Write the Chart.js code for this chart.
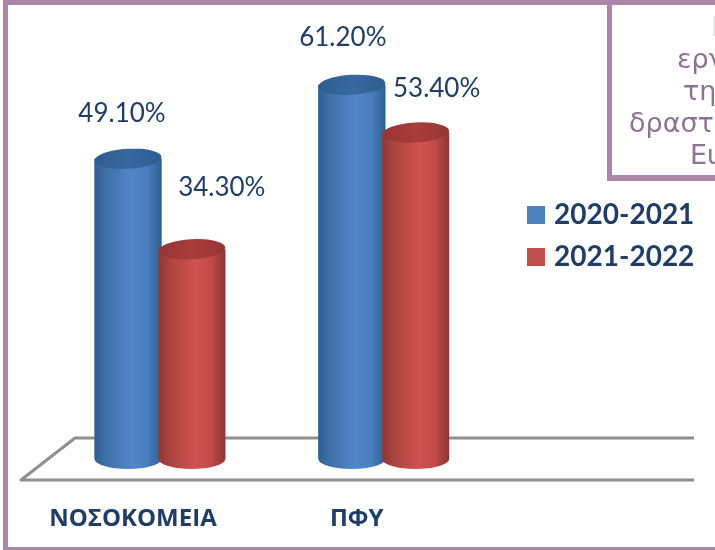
<!DOCTYPE html>
<html>
<head>
<meta charset="utf-8">
<style>html,body{margin:0;padding:0;background:#fff}canvas{display:block}</style>
<script src="https://cdn.jsdelivr.net/npm/chart.js@4"></script>
</head>
<body>
<canvas id="c" width="715" height="550"></canvas>
<script>
const categories = ['ΝΟΣΟΚΟΜΕΙΑ', 'ΠΦΥ'];
const seriesNames = ['2020-2021', '2021-2022'];
const values2020 = [49.1, 61.2];
const values2021 = [34.3, 53.4];
const insetLines = ['Ι', 'εργ', 'τηα', 'δραστι', 'Ευ'];

const NAVY = '#1f3d66';
const PURPLE = '#ab86a8';
const looks = [
  {flat:'#4f81bd', stops:['#2f5f93','#3f70a8','#5187c8','#4a7fbe','#2f6093'], cap:'#38699f', capBack:'#2f5c8f'},
  {flat:'#c0504d', stops:['#8e3634','#ad4341','#d05351','#c24c4a','#8e3533'], cap:'#a93d3b', capBack:'#963533'}
];
// label shift from the top of each bar [dx, dy], per series then per category
const labelShift = [[[-6,-45],[-9,-47]],[[30,-62],[21,-44]]];

const cylinders = {
  id:'cylinders',
  beforeDraw(chart){
    const {ctx} = chart;
    ctx.save();
    ctx.fillStyle = '#fff';
    ctx.fillRect(0,0,715,550);
    ctx.fillStyle = PURPLE;
    ctx.fillRect(3,0,5,550);
    ctx.fillRect(3,0,712,5);
    ctx.fillRect(3,547,712,3);
    ctx.restore();
  },
  beforeDatasetsDraw(chart){
    const {ctx, scales:{y}} = chart;
    const base = y.getPixelForValue(0);
    ctx.save();
    ctx.strokeStyle = '#8f8f8f';
    ctx.lineWidth = 3;
    ctx.lineJoin = 'round';
    ctx.beginPath();
    ctx.moveTo(694, base-21);
    ctx.lineTo(75, base-21);
    ctx.lineTo(21, base+21);
    ctx.lineTo(694, base+21);
    ctx.stroke();
    ctx.restore();
  },
  afterDatasetsDraw(chart){
    const {ctx} = chart;
    chart.data.datasets.forEach((ds, di) => {
      const look = looks[di];
      chart.getDatasetMeta(di).data.forEach((el, i) => {
        const l = el.x - el.width/2, r = el.x + el.width/2, rx = el.width/2, ry = 10, tilt = -0.055;
        ctx.save();
        const g = ctx.createLinearGradient(l,0,r,0);
        [0,0.18,0.55,0.78,1].forEach((p,k)=>g.addColorStop(p,look.stops[k]));
        ctx.fillStyle = g;
        ctx.beginPath();
        ctx.moveTo(l, el.y);
        ctx.lineTo(l, el.base);
        ctx.ellipse(el.x, el.base, rx, ry, 0, Math.PI, 0, true);
        ctx.lineTo(r, el.y);
        ctx.closePath();
        ctx.fill();
        const cg = ctx.createLinearGradient(l,0,r,0);
        cg.addColorStop(0, look.capBack);
        cg.addColorStop(0.5, look.cap);
        cg.addColorStop(1, look.capBack);
        ctx.fillStyle = cg;
        ctx.beginPath();
        ctx.ellipse(el.x, el.y, rx, ry, tilt, 0, Math.PI*2);
        ctx.fill();
        ctx.restore();
      });
    });
    // value labels
    ctx.save();
    ctx.font = '26px Lato, "Open Sans", sans-serif';
    ctx.fillStyle = NAVY;
    ctx.textAlign = 'center';
    ctx.textBaseline = 'middle';
    chart.data.datasets.forEach((ds, di) => {
      chart.getDatasetMeta(di).data.forEach((el, i) => {
        const [dx, dy] = labelShift[di][i];
        ctx.fillText(ds.data[i].toFixed(2) + '%', el.x + dx, el.y + dy);
      });
    });
    ctx.restore();
  },
  afterDraw(chart){
    const {ctx} = chart;
    ctx.save();
    ctx.fillStyle = '#fff';
    ctx.fillRect(607,5,108,176);
    ctx.fillStyle = PURPLE;
    ctx.fillRect(607,0,5,181);
    ctx.fillRect(607,175,108,6);
    ctx.font = '27px "DejaVu Sans", sans-serif';
    ctx.textBaseline = 'alphabetic';
    ctx.textAlign = 'left';
    ctx.fillStyle = '#e6e0e6';
    ctx.fillText(insetLines[0], 711, 36);
    ctx.fillStyle = '#8f7193';
    ctx.fillText(insetLines[1], 677, 68);
    ctx.fillText(insetLines[2], 683, 100);
    ctx.fillText(insetLines[3], 629, 132);
    ctx.fillText(insetLines[4], 690, 164);
    ctx.restore();
  },
  afterLayout(chart){
    chart.legend.left = 518;
    chart.legend.right = 715;
    chart.legend.top = 187;
  }
};

new Chart(document.getElementById('c'), {
  type:'bar',
  data:{
    labels:categories,
    datasets:[
      {label:seriesNames[0], data:values2020, backgroundColor:looks[0].flat, categoryPercentage:0.57, barPercentage:1.05},
      {label:seriesNames[1], data:values2021, backgroundColor:looks[1].flat, categoryPercentage:0.57, barPercentage:1.05}
    ]
  },
  options:{
    responsive:false,
    animation:false,
    layout:{padding:{left:48, right:33, top:31, bottom:0}},
    scales:{
      x:{
        grid:{display:false},
        border:{display:false},
        afterFit(scale){ scale.height = 91; },
        ticks:{
          padding:38, maxRotation:0, autoSkip:false, labelOffset:-27,
          color:NAVY,
          font:{family:'"Open Sans", sans-serif', size:24, weight:'bold'}
        }
      },
      y:{display:false, min:0, max:70}
    },
    plugins:{
      legend:{
        position:'right',
        align:'start',
        labels:{
          boxWidth:8, boxHeight:8, padding:14,
          color:NAVY,
          font:{family:'Lato, "Open Sans", sans-serif', size:28, weight:'bold'},
          generateLabels(chart){
            return chart.data.datasets.map((d,i)=>({
              text:d.label, fillStyle:d.backgroundColor, strokeStyle:d.backgroundColor,
              fontColor:NAVY, lineWidth:10, datasetIndex:i, hidden:false
            }));
          }
        }
      },
      title:{display:false},
      tooltip:{enabled:false}
    }
  },
  plugins:[cylinders]
});
</script>
</body>
</html>
